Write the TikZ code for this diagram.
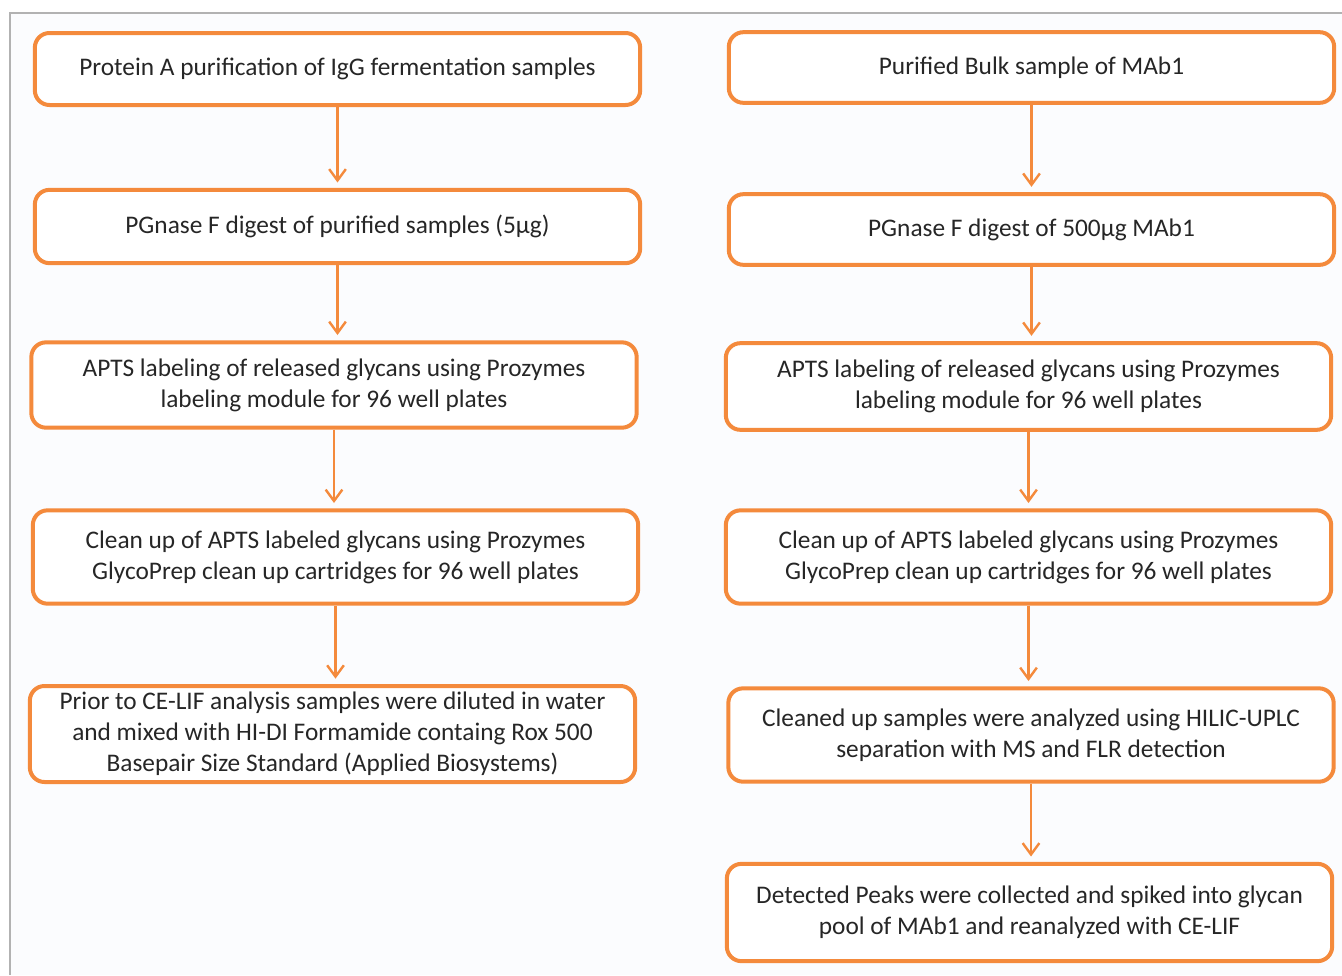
\documentclass[tikz,border=0pt]{standalone}
\usepackage{fontspec}
\setmainfont{Carlito}
\usetikzlibrary{arrows.meta}
\definecolor{boxorange}{HTML}{F48A3C}
\definecolor{framegray}{HTML}{B2B2B2}
\definecolor{paper}{HTML}{FBFCFE}
\tikzset{
  stepbox/.style={rectangle, rounded corners=11pt, draw=boxorange, line width=3pt, fill=white,
                  text=black!85, align=center, font=\fontsize{19}{23.2}\selectfont,
                  minimum width=454pt, inner sep=2pt},
  flow/.style={-{Straight Barb[length=3mm, width=4.4mm, line width=1.8pt]}, line width=1.8pt,
               draw=boxorange, shorten >=4pt},
}

\begin{document}
\begin{tikzpicture}[x=0.75pt, y=-0.75pt]
  \useasboundingbox (0,0) rectangle (1342,975);
  % --- cornice
  \fill[paper] (10,13) rectangle (1342,975);
  \draw[framegray, line width=1.6pt] (10,975) -- (10,13) -- (1342,13);

  % --- colonna sinistra (campioni di fermentazione)
  \node[stepbox, minimum height=54pt] (l1) at (337.5,69)  {Protein A purification of IgG fermentation samples};
  \node[stepbox, minimum height=55pt] (l2) at (337.5,226.5) {PGnase F digest of purified samples (5µg)};
  \node[stepbox, minimum height=64pt] (l3) at (334,385)   {APTS labeling of released glycans using Prozymes\\labeling module for 96 well plates};
  \node[stepbox, minimum height=70pt] (l4) at (335.5,557) {Clean up of APTS labeled glycans using Prozymes\\GlycoPrep clean up cartridges for 96 well plates};
  \node[stepbox, minimum height=72pt] (l5) at (332.5,734) {Prior to CE-LIF analysis samples were diluted in water\\and mixed with HI-DI Formamide containg Rox 500\\Basepair Size Standard (Applied Biosystems)};
  \foreach \a/\b in {l1/l2,l2/l3,l3/l4,l4/l5}{ \draw[flow] (\a.south) -- (\a.south |- \b.north); }

  % --- colonna destra (MAb1)
  \node[stepbox, minimum height=53pt] (r1) at (1031.5,67.5) {Purified Bulk sample of MAb1};
  \node[stepbox, minimum height=53pt] (r2) at (1031.5,229.5) {PGnase F digest of 500µg MAb1};
  \node[stepbox, minimum height=65pt] (r3) at (1028.5,386.5) {APTS labeling of released glycans using Prozymes\\labeling module for 96 well plates};
  \node[stepbox, minimum height=70pt] (r4) at (1028.5,557) {Clean up of APTS labeled glycans using Prozymes\\GlycoPrep clean up cartridges for 96 well plates};
  \node[stepbox, minimum height=70pt] (r5) at (1031,735)   {Cleaned up samples were analyzed using HILIC-UPLC\\separation with MS and FLR detection};
  \node[stepbox, minimum height=73pt] (r6) at (1029.5,912.5) {Detected Peaks were collected and spiked into glycan\\pool of MAb1 and reanalyzed with CE-LIF};
  \foreach \a/\b in {r1/r2,r2/r3,r3/r4,r4/r5,r5/r6}{ \draw[flow] (\a.south) -- (\a.south |- \b.north); }
\end{tikzpicture}
\end{document}
